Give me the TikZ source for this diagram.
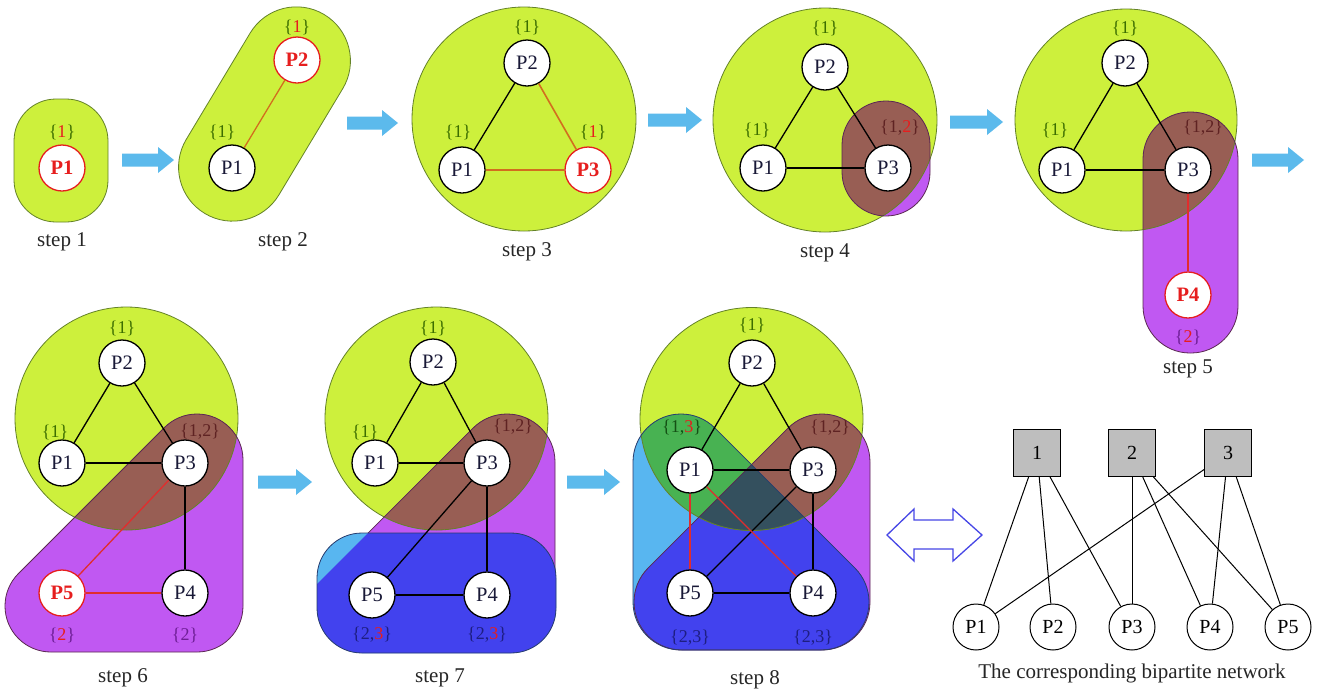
\documentclass[tikz,border=0pt]{standalone}
\usepackage{fontspec}
\setmainfont{Liberation Serif}
\definecolor{lime}{RGB}{205,240,60}
\definecolor{purp}{RGB}{192,88,242}
\definecolor{brownish}{RGB}{152,94,84}
\definecolor{cyanb}{RGB}{88,182,240}
\definecolor{blueb}{RGB}{66,66,238}
\definecolor{dgreen}{RGB}{72,178,82}
\definecolor{slate}{RGB}{52,80,94}
\definecolor{arrowblue}{RGB}{92,186,236}
\definecolor{dblue}{RGB}{70,70,230}
\definecolor{labgreen}{RGB}{60,110,0}
\definecolor{labbrown}{RGB}{95,35,35}
\definecolor{labpurple}{RGB}{110,30,150}
\definecolor{labblue}{RGB}{30,30,130}
\definecolor{labdgreen}{RGB}{20,80,20}
\definecolor{labred}{RGB}{230,30,30}
\definecolor{edgered}{RGB}{225,45,45}
\definecolor{edgeorange}{RGB}{210,110,30}
\definecolor{nodetxt}{RGB}{25,25,55}
\definecolor{goutline}{RGB}{100,130,40}
\definecolor{poutline}{RGB}{90,40,80}
\definecolor{coutline}{RGB}{40,60,110}
\definecolor{sqgray}{RGB}{190,190,190}
\newcommand\hsetl[2]{\textcolor{#1}{\{#2\}}}
\newcommand\hsetr[3]{\textcolor{#1}{\{#2}\textcolor{labred}{#3}\textcolor{#1}{\}}}
\newcommand\stepar[3]{\fill[arrowblue] (#1,-#3+6.5) -- (#2-16,-#3+6.5) -- (#2-16,-#3+13) -- (#2,-#3) -- (#2-16,-#3-13) -- (#2-16,-#3-6.5) -- (#1,-#3-6.5) -- cycle;}
% hull: #1 right x, #2 top y, #3 bottom y, #4 left x, #5 radius (image y)
\newcommand\hullP[5]{(#1,-#3-#5) arc[start angle=-90,end angle=0,radius=#5] -- (#1+#5,-#2) arc[start angle=0,end angle=135,radius=#5] -- ++(#4-#1,#2-#3) arc[start angle=135,end angle=270,radius=#5] -- cycle}
\newcommand\hullC[5]{(#4,-#3-#5) -- (#1,-#3-#5) arc[start angle=-90,end angle=45,radius=#5] -- ++(#4-#1,#3-#2) arc[start angle=45,end angle=180,radius=#5] -- (#4-#5,-#3) arc[start angle=180,end angle=270,radius=#5] -- cycle}
\begin{document}
\begin{tikzpicture}[x=1pt,y=1pt,
 pn/.style={circle,draw=black,line width=1.3pt,fill=white,minimum size=46pt,inner sep=0pt,text=nodetxt,font=\fontsize{20.5}{21}\selectfont},
 pnew/.style={pn,draw=labred,text=labred,font=\fontsize{20.5}{21}\selectfont\bfseries},
 lab/.style={inner sep=0pt,font=\fontsize{18}{20}\selectfont},
 steplab/.style={inner sep=0pt,text=black!85,font=\fontsize{21}{24}\selectfont},
 pedge/.style={draw=black,line width=1.3pt},
 redge/.style={draw=edgered,line width=1.3pt},
 oedge/.style={draw=edgeorange,line width=1.6pt},
 gout/.style={draw=goutline,line width=0.8pt},
 pout/.style={draw=poutline,line width=0.8pt},
 cout/.style={draw=coutline,line width=0.8pt},
 sq/.style={rectangle,draw=black,line width=1pt,fill=sqgray,minimum size=47pt,inner sep=0pt,font=\fontsize{20}{21}\selectfont},
 bn/.style={circle,draw=black,line width=1pt,fill=white,minimum size=46pt,inner sep=0pt,font=\fontsize{20}{21}\selectfont}
]
\useasboundingbox (0,0) rectangle (1319,-689);
\fill[white] (0,0) rectangle (1319,-689);

% ---------- step arrows
\stepar{122}{174}{160}
\stepar{347}{398}{123}
\stepar{648}{702}{120}
\stepar{950}{1003}{122}
\stepar{1252}{1304}{160}
\stepar{258}{312}{482}
\stepar{567}{620}{482}

% ---------- step 1
\fill[lime,rounded corners=42pt] (14,-99) rectangle (108,-222);
\draw[gout,rounded corners=42pt] (14,-99) rectangle (108,-222);
\node[pnew] (s1p1) at (62,-168) {P1};
\node[lab] at (62,-132) {\hsetr{labgreen}{}{1}};
\node[steplab] at (62,-242) {step 1};

% ---------- step 2
\begin{scope}[shift={(264.5,-114)},rotate=59]
\fill[lime,rounded corners=54pt] (-116,-54) rectangle (116,54);
\draw[gout,rounded corners=54pt] (-116,-54) rectangle (116,54);
\end{scope}
\node[pn] (s2p1) at (232,-168) {P1};
\node[pnew] (s2p2) at (297,-60) {P2};
\draw[redge,draw=edgeorange] (s2p1) -- (s2p2);
\node[lab] at (222,-132) {\hsetl{labgreen}{1}};
\node[lab] at (297,-27) {\hsetr{labgreen}{}{1}};
\node[steplab] at (283,-242) {step 2};

% ---------- step 3
\fill[lime] (524,-119) circle[radius=112];
\draw[gout] (524,-119) circle[radius=112];
\node[pn] (s3p2) at (527,-63) {P2};
\node[pn] (s3p1) at (462,-170) {P1};
\node[pnew] (s3p3) at (588,-170) {P3};
\draw[pedge] (s3p1) -- (s3p2);
\draw[oedge] (s3p2) -- (s3p3);
\draw[oedge,line width=2.4pt] (s3p1) -- (s3p3);
\node[lab] at (527,-27) {\hsetl{labgreen}{1}};
\node[lab] at (458,-132) {\hsetl{labgreen}{1}};
\node[lab] at (593,-132) {\hsetr{labgreen}{}{1}};
\node[steplab] at (527,-252) {step 3};

% ---------- step 4
\fill[lime] (825,-120) circle[radius=112];
\fill[purp,rounded corners=44pt] (842,-101) rectangle (930,-216);
\begin{scope}
\clip (825,-120) circle[radius=112];
\fill[brownish,rounded corners=44pt] (842,-101) rectangle (930,-216);
\end{scope}
\draw[gout] (825,-120) circle[radius=112];
\draw[pout,rounded corners=44pt] (842,-101) rectangle (930,-216);
\node[pn] (s4p2) at (825,-67) {P2};
\node[pn] (s4p1) at (763,-168) {P1};
\node[pn] (s4p3) at (888,-168) {P3};
\draw[pedge] (s4p1) -- (s4p2);
\draw[pedge] (s4p2) -- (s4p3);
\draw[pedge] (s4p1) -- (s4p3);
\node[lab] at (825,-28) {\hsetl{labgreen}{1}};
\node[lab] at (757,-130) {\hsetl{labgreen}{1}};
\node[lab] at (900,-128) {\hsetr{labbrown}{1,}{2}};
\node[steplab] at (825,-253) {step 4};

% ---------- step 5
\fill[lime] (1126,-120) circle[radius=111];
\fill[purp,rounded corners=47pt] (1143,-112) rectangle (1238,-353);
\begin{scope}
\clip (1126,-120) circle[radius=111];
\fill[brownish,rounded corners=47pt] (1143,-112) rectangle (1238,-353);
\end{scope}
\draw[gout] (1126,-120) circle[radius=111];
\draw[pout,rounded corners=47pt] (1143,-112) rectangle (1238,-353);
\node[pn] (s5p2) at (1125,-63) {P2};
\node[pn] (s5p1) at (1062,-170) {P1};
\node[pn] (s5p3) at (1188,-170) {P3};
\node[pnew] (s5p4) at (1188,-295) {P4};
\draw[pedge] (s5p1) -- (s5p2);
\draw[pedge] (s5p2) -- (s5p3);
\draw[pedge] (s5p1) -- (s5p3);
\draw[redge] (s5p3) -- (s5p4);
\node[lab] at (1125,-28) {\hsetl{labgreen}{1}};
\node[lab] at (1055,-130) {\hsetl{labgreen}{1}};
\node[lab] at (1203,-128) {\hsetl{labbrown}{1,2}};
\node[lab] at (1188,-337) {\hsetr{labpurple}{}{2}};
\node[steplab] at (1188,-369) {step 5};

% ---------- step 6
\fill[lime] (126.5,-418.5) circle[radius=111.5];
\fill[purp] \hullP{197}{460}{606}{51}{46};
\begin{scope}
\clip (126.5,-418.5) circle[radius=111.5];
\fill[brownish] \hullP{197}{460}{606}{51}{46};
\end{scope}
\draw[gout] (126.5,-418.5) circle[radius=111.5];
\draw[pout] \hullP{197}{460}{606}{51}{46};
\node[pn] (s6p2) at (122,-363) {P2};
\node[pn] (s6p1) at (62,-463) {P1};
\node[pn] (s6p3) at (185,-463) {P3};
\node[pnew] (s6p5) at (62,-593) {P5};
\node[pn] (s6p4) at (185,-593) {P4};
\draw[pedge] (s6p1) -- (s6p2);
\draw[pedge] (s6p2) -- (s6p3);
\draw[pedge] (s6p1) -- (s6p3);
\draw[pedge] (s6p3) -- (s6p4);
\draw[redge] (s6p3) -- (s6p5);
\draw[redge] (s6p5) -- (s6p4);
\node[lab] at (122,-328) {\hsetl{labgreen}{1}};
\node[lab] at (55,-432) {\hsetl{labgreen}{1}};
\node[lab] at (200,-432) {\hsetl{labbrown}{1,2}};
\node[lab] at (62,-635) {\hsetr{labpurple}{}{2}};
\node[lab] at (185,-635) {\hsetl{labpurple}{2}};
\node[steplab] at (123,-678) {step 6};

% ---------- step 7
\fill[lime] (436.5,-418.5) circle[radius=111.5];
\fill[purp] \hullP{507}{462}{602}{367}{48};
\begin{scope}
\clip (436.5,-418.5) circle[radius=111.5];
\fill[brownish] \hullP{507}{462}{602}{367}{48};
\end{scope}
\draw[gout] (436.5,-418.5) circle[radius=111.5];
\draw[pout] \hullP{507}{462}{602}{367}{48};
\fill[cyanb,rounded corners=45pt] (317,-533) rectangle (556,-653);
\begin{scope}
\clip (200,-701.2) -- (701.2,-200) -- (701.2,-701.2) -- cycle;
\fill[blueb,rounded corners=45pt] (317,-533) rectangle (556,-653);
\end{scope}
\draw[cout,rounded corners=45pt] (317,-533) rectangle (556,-653);
\node[pn] (s7p2) at (433,-362) {P2};
\node[pn] (s7p1) at (375,-463) {P1};
\node[pn] (s7p3) at (487,-463) {P3};
\node[pn] (s7p5) at (372,-595) {P5};
\node[pn] (s7p4) at (487,-595) {P4};
\draw[pedge] (s7p1) -- (s7p2);
\draw[pedge] (s7p2) -- (s7p3);
\draw[pedge] (s7p1) -- (s7p3);
\draw[pedge] (s7p3) -- (s7p4);
\draw[pedge] (s7p3) -- (s7p5);
\draw[pedge] (s7p5) -- (s7p4);
\node[lab] at (433,-328) {\hsetl{labgreen}{1}};
\node[lab] at (365,-432) {\hsetl{labgreen}{1}};
\node[lab] at (513,-427) {\hsetl{labbrown}{1,2}};
\node[lab] at (372,-635) {\hsetr{labblue}{2,}{3}};
\node[lab] at (487,-635) {\hsetr{labblue}{2,}{3}};
\node[steplab] at (440,-678) {step 7};

% ---------- step 8
\fill[lime] (751.5,-419) circle[radius=111.5];
\fill[purp] \hullP{822}{462}{602}{682}{48};
\fill[cyanb] \hullC{821}{462}{602}{681}{48};
\begin{scope}
\clip \hullP{822}{462}{602}{682}{48};
\fill[blueb] \hullC{821}{462}{602}{681}{48};
\end{scope}
\begin{scope}
\clip (751.5,-419) circle[radius=111.5];
\fill[brownish] \hullP{822}{462}{602}{682}{48};
\fill[dgreen] \hullC{821}{462}{602}{681}{48};
\clip \hullP{822}{462}{602}{682}{48};
\fill[slate] \hullC{821}{462}{602}{681}{48};
\end{scope}
\draw[gout] (751.5,-419) circle[radius=111.5];
\draw[pout] \hullP{822}{462}{602}{682}{48};
\draw[cout] \hullC{821}{462}{602}{681}{48};
\node[pn] (s8p2) at (752,-363) {P2};
\node[pn] (s8p1) at (690,-470) {P1};
\node[pn] (s8p3) at (813,-470) {P3};
\node[pn] (s8p5) at (690,-593) {P5};
\node[pn] (s8p4) at (813,-593) {P4};
\draw[pedge] (s8p1) -- (s8p2);
\draw[pedge] (s8p2) -- (s8p3);
\draw[pedge] (s8p1) -- (s8p3);
\draw[pedge] (s8p3) -- (s8p4);
\draw[pedge] (s8p3) -- (s8p5);
\draw[pedge] (s8p5) -- (s8p4);
\draw[redge] (s8p1) -- (s8p5);
\draw[redge] (s8p1) -- (s8p4);
\node[lab] at (752,-325) {\hsetl{labgreen}{1}};
\node[lab] at (682,-428) {\hsetr{labdgreen}{1,}{3}};
\node[lab] at (830,-428) {\hsetl{labbrown}{1,2}};
\node[lab] at (690,-638) {\hsetl{labblue}{2,3}};
\node[lab] at (813,-638) {\hsetl{labblue}{2,3}};
\node[steplab] at (755,-680) {step 8};

% ---------- double arrow
\draw[draw=dblue,line width=1.3pt,fill=white] (887,-535) -- (914,-509) -- (914,-520) -- (953,-520) -- (953,-509) -- (982,-535) -- (953,-561) -- (953,-549) -- (914,-549) -- (914,-561) -- cycle;

% ---------- bipartite network
\node[sq] (g1) at (1037,-453) {1};
\node[sq] (g2) at (1132,-453) {2};
\node[sq] (g3) at (1228,-453) {3};
\node[bn] (q1) at (976,-627) {P1};
\node[bn] (q2) at (1053,-627) {P2};
\node[bn] (q3) at (1132,-627) {P3};
\node[bn] (q4) at (1210,-627) {P4};
\node[bn] (q5) at (1288,-627) {P5};
\foreach \a/\b in {g1/q1,g1/q2,g1/q3,g2/q3,g2/q4,g2/q5,g3/q1,g3/q4,g3/q5}
  \draw[line width=1pt] (\a) -- (\b);
\node[steplab] at (1132,-673) {The corresponding bipartite network};
\end{tikzpicture}
\end{document}
